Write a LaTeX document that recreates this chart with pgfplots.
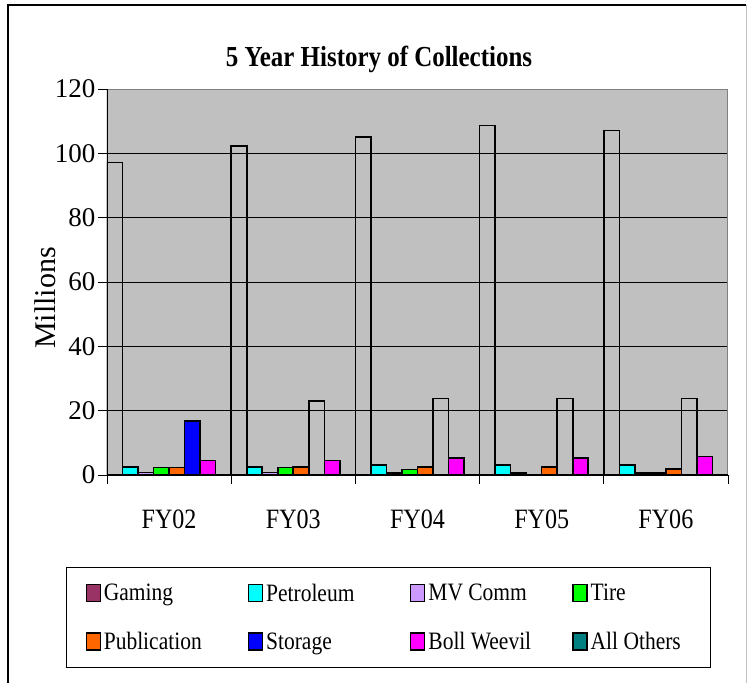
\documentclass[border=0pt]{standalone}
\usepackage{pgfplots}
\pgfplotsset{compat=1.18}
\usepackage{fontspec}
\setmainfont{Liberation Serif}
\newfontfamily\condensed[FakeStretch=0.86]{Liberation Serif}
\definecolor{plotbg}{HTML}{C0C0C0}
\definecolor{bordergray}{HTML}{808080}
\definecolor{cGaming}{HTML}{993366}
\definecolor{cPetrol}{HTML}{00FFFF}
\definecolor{cMV}{HTML}{CC99FF}
\definecolor{cTire}{HTML}{00FF00}
\definecolor{cPub}{HTML}{FF6600}
\definecolor{cStorage}{HTML}{0000FF}
\definecolor{cBoll}{HTML}{FF00FF}
\definecolor{cOther}{HTML}{008080}
\begin{document}
\begin{tikzpicture}[x=1pt,y=1pt]
\useasboundingbox (0,0) rectangle (748,-683);
\fill[white] (0,0) rectangle (748,-683);
\draw[black,line width=2pt] (8,-684) -- (8,-5) -- (746,-5);
\draw[black!25,line width=1pt] (746,-5) -- (746,-684);
\node[font=\fontsize{29}{29}\selectfont\condensed\bfseries] at (379,-59) {5 Year History of Collections};
\node[rotate=90,font=\fontsize{30}{30}\selectfont] at (45,-298) {Millions};
\begin{axis}[
  at={(107pt,-475pt)}, anchor=south west,
  scale only axis, width=621pt, height=386pt,
  xmin=0, xmax=5, ymin=0, ymax=120,
  axis background/.style={fill=plotbg},
  axis line style={draw=none},
  ytick={0,20,...,120},
  ymajorgrids, major grid style={black, line width=0.8pt},
  xtick={0,1,2,3,4,5}, xticklabels={},
  extra x ticks={0.5,1.5,2.5,3.5,4.5},
  extra x tick labels={FY02,FY03,FY04,FY05,FY06},
  extra x tick style={major tick length=0pt, grid=none, xticklabel style={yshift=-31pt, font=\fontsize{28}{28}\selectfont\condensed}},
  xtick pos=bottom, ytick pos=left,
  tick align=outside, major tick length=9pt,
  tick style={black, line width=0.8pt},
  yticklabel style={font=\fontsize{27}{27}\selectfont, xshift=1pt},
  /pgf/number format/assume math mode=true,
  ybar, bar width=0.125,
  every axis plot/.append style={draw=black, line width=1.6pt},
  legend image code/.code={\draw[#1, line width=1.3pt] (0pt,-8.5pt) rectangle (14pt,8.5pt);},
  legend columns=4,
  legend cell align=left,
  legend style={at={(-0.066,-0.238)}, anchor=north west, draw=black, line width=1pt,
    font=\fontsize{25}{25}\selectfont\condensed, inner xsep=19pt, inner ysep=13.5pt,
    nodes={inner sep=3pt}, column sep=0pt, row sep=23.5pt},
]
% Gaming (drawn unfilled)
\addplot[forget plot, fill=none, bar shift=0.0625] coordinates {(0,97.2) (1,102.2) (2,105.1) (3,108.6) (4,107.1)};
% Petroleum
\addplot[forget plot, fill=cPetrol, bar shift=0.1875] coordinates {(0,2.4) (1,2.4) (2,3.2) (3,3.2) (4,3.2)};
% MV Comm
\addplot[forget plot, fill=cMV, bar shift=0.3125] coordinates {(0,0.8) (1,0.8) (2,0.6) (3,0.7) (4,0.6)};
% Tire
\addplot[forget plot, fill=cTire, bar shift=0.4375] coordinates {(0,2.3) (1,2.3) (2,1.7) (3,0) (4,0.6)};
% Publication
\addplot[forget plot, fill=cPub, bar shift=0.5625] coordinates {(0,2.3) (1,2.4) (2,2.5) (3,2.5) (4,1.8)};
% Storage (FY02 filled, later years unfilled)
\addplot[forget plot, fill=cStorage, bar shift=0.6875] coordinates {(0,16.8)};
\addplot[forget plot, fill=none, bar shift=0.6875] coordinates {(1,23.1) (2,23.8) (3,23.8) (4,23.8)};
% Boll Weevil
\addplot[forget plot, fill=cBoll, bar shift=0.8125] coordinates {(0,4.5) (1,4.5) (2,5.2) (3,5.2) (4,5.8)};
% All Others
\addplot[forget plot, fill=cOther, bar shift=0.9375] coordinates {(0,0) (1,0) (2,0) (3,0) (4,0)};
% borders
\draw[bordergray, line width=2pt] (rel axis cs:0,1) -- (rel axis cs:1,1) -- (rel axis cs:1,0);
\draw[black, line width=1.2pt] (rel axis cs:0,1) -- (rel axis cs:0,0) -- (rel axis cs:1,0);
% legend
\addlegendimage{fill=cGaming, draw=black}\addlegendentry{\makebox[141pt][l]{Gaming}}
\addlegendimage{fill=cPetrol, draw=black}\addlegendentry{\makebox[141pt][l]{Petroleum}}
\addlegendimage{fill=cMV, draw=black}\addlegendentry{\makebox[141pt][l]{MV Comm}}
\addlegendimage{fill=cTire, draw=black}\addlegendentry{\makebox[98pt][l]{Tire}}
\addlegendimage{fill=cPub, draw=black}\addlegendentry{\makebox[141pt][l]{Publication}}
\addlegendimage{fill=cStorage, draw=black}\addlegendentry{\makebox[141pt][l]{Storage}}
\addlegendimage{fill=cBoll, draw=black}\addlegendentry{\makebox[141pt][l]{Boll Weevil}}
\addlegendimage{fill=cOther, draw=black}\addlegendentry{\makebox[98pt][l]{All Others}}
\end{axis}
\end{tikzpicture}
\end{document}
